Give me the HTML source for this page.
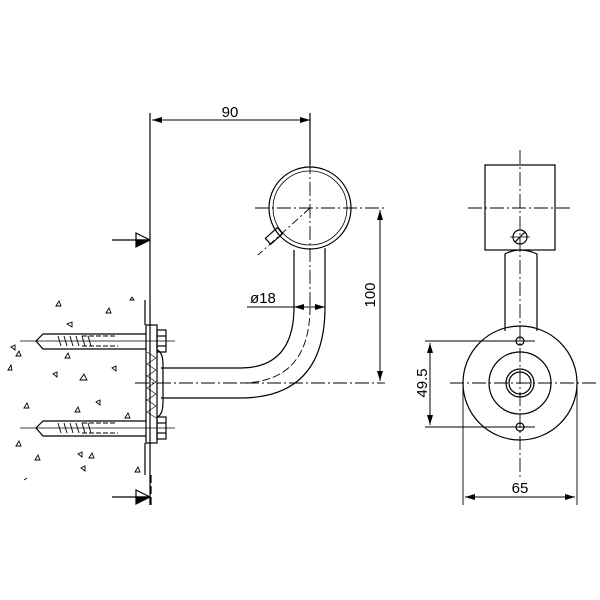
<!DOCTYPE html>
<html><head><meta charset="utf-8"><style>html,body{margin:0;padding:0;background:#fff}svg{display:block}text{font-family:"Liberation Sans",sans-serif;fill:#000}</style></head>
<body>
<svg width="600" height="600" viewBox="0 0 600 600" xmlns="http://www.w3.org/2000/svg">
<defs>
<marker id="a" markerWidth="10" markerHeight="6" refX="10" refY="3" orient="auto-start-reverse" markerUnits="userSpaceOnUse"><path d="M0,0 L10,3 L0,6 Z" fill="#000"/></marker>
</defs>
<g fill="none" stroke="#000" stroke-width="1.2">
<line x1="150" y1="113" x2="150" y2="505"/>
<line x1="145" y1="300" x2="145" y2="325" />
<line x1="145" y1="443" x2="145" y2="475" />
<line x1="151" y1="475" x2="151" y2="505" stroke-dasharray="8,3"/>
<line x1="112" y1="240" x2="150" y2="240"/>
<path d="M136,233 L150,240 L136,240 Z" fill="#fff"/><path d="M136,247 L150,240 L136,240 Z" fill="#000"/>
<line x1="112" y1="497" x2="150" y2="497"/>
<path d="M136,490 L150,497 L136,497 Z" fill="#fff"/><path d="M136,504 L150,497 L136,497 Z" fill="#000"/>
<line x1="310" y1="113" x2="310" y2="165"/>
<line x1="152" y1="120" x2="310" y2="120" marker-start="url(#a)" marker-end="url(#a)" stroke-width="1"/>
<circle cx="310" cy="208" r="41"/>
<circle cx="310" cy="208" r="37" stroke-width="0.8"/>
<line x1="310" y1="160" x2="310" y2="310" stroke-dasharray="14,3,2,3" stroke-width="0.9"/>
<line x1="255" y1="208" x2="385" y2="208" stroke-dasharray="14,3,2,3" stroke-width="0.9"/>
<line x1="310" y1="208" x2="258" y2="255" stroke-dasharray="8,3,2,3" stroke-width="0.9"/>
<rect x="266" y="232" width="16" height="8" transform="rotate(-42 274 236)"/>
<line x1="294" y1="250" x2="294" y2="307"/>
<line x1="325" y1="248" x2="325" y2="307"/>
<path d="M294,307 Q294,368 240,368 L161,368"/>
<path d="M325,307 Q325,398 240,398 L161,398"/>
<path d="M310,307 Q310,383 240,383" stroke-dasharray="8,3" stroke-width="0.9"/>
<line x1="135" y1="383" x2="385" y2="383" stroke-dasharray="14,3,2,3" stroke-width="0.9"/>
<line x1="380" y1="210" x2="380" y2="381" marker-start="url(#a)" marker-end="url(#a)" stroke-width="1"/>
<line x1="247" y1="307" x2="294" y2="307" stroke-width="1"/>
<line x1="294" y1="307" x2="325" y2="307" marker-start="url(#a)" marker-end="url(#a)" stroke-width="1"/>
<rect x="146" y="325" width="11" height="118"/>
<path d="M157,350 Q163,352 163,365 L163,402 Q163,415 157,417"/>
<path d="M147,352 l9,6 l-9,6 l9,6 l-9,6 l9,6 l-9,6 l9,6 l-9,6 l9,6 l-9,6 l9,6" stroke-width="0.6"/>
<rect x="157" y="330" width="9" height="22"/><line x1="157" y1="336" x2="166" y2="336"/><line x1="157" y1="346" x2="166" y2="346"/>
<rect x="157" y="417" width="9" height="22"/><line x1="157" y1="423" x2="166" y2="423"/><line x1="157" y1="433" x2="166" y2="433"/>
<line x1="20" y1="341" x2="175" y2="341" stroke-width="0.8"/>
<line x1="20" y1="428" x2="175" y2="428" stroke-width="0.8"/>
<path d="M146,334 L43,334 L36,341 L43,349 L146,349"/>
<path d="M146,421 L43,421 L36,428 L43,436 L146,436"/>
<path d="M58,336 l3,10 m3,-10 l3,10 m3,-10 l3,10 m3,-10 l3,10 m3,-10 l3,10 m3,-10 l3,10" stroke-width="0.9"/>
<path d="M58,423 l3,10 m3,-10 l3,10 m3,-10 l3,10 m3,-10 l3,10 m3,-10 l3,10 m3,-10 l3,10" stroke-width="0.9"/>
<path d="M82,336 h34 M82,346 h36 M82,423 h34 M82,433 h36" stroke-width="0.9" stroke-dasharray="5,2"/>
<g stroke-width="0.9">
<path d="M56,306 l3,-5 l2,5z M106,313 l3,-5 l2,5z M72,322 l-5,2 l5,3z M15,345 l-4,2 l4,3z M16,356 l3,-5 l2,5z M65,358 l3,-5 l2,5z M57,372 l-4,2 l4,3z M80,380 l4,-6 l3,6z M116,366 l-4,2 l4,3z M100,400 l-4,2 l4,3z M24,408 l3,-5 l2,5z M75,412 l3,-5 l2,5z M125,418 l3,-5 l2,5z M16,446 l3,-5 l2,5z M35,460 l3,-5 l2,5z M82,452 l-4,2 l4,3z M89,458 l3,-5 l2,5z M85,466 l-4,2 l4,3z M135,472 l3,-5 l2,5z M130,300 l2,-3 l2,3z M8,370 l3,-5 l1,5z M24,480 l3,-2"/>
</g>
<rect x="485" y="165" width="70" height="85"/>
<line x1="520" y1="150" x2="520" y2="480" stroke-dasharray="14,3,2,3" stroke-width="0.9"/>
<line x1="468" y1="208" x2="573" y2="208" stroke-dasharray="14,3,2,3" stroke-width="0.9"/>
<circle cx="520" cy="237" r="7"/><line x1="515" y1="242" x2="525" y2="232"/><line x1="510" y1="237" x2="530" y2="237" stroke-width="0.8"/>
<path d="M505,331 L505,254 Q520,246 537,254 L537,331"/>
<circle cx="520" cy="383" r="57"/>
<circle cx="520" cy="383" r="31"/>
<circle cx="520" cy="383" r="14"/>
<circle cx="520" cy="383" r="11"/>
<circle cx="520" cy="341" r="4"/>
<circle cx="520" cy="427" r="4"/>
<line x1="450" y1="383" x2="596" y2="383" stroke-dasharray="14,3,2,3" stroke-width="0.9"/>
<line x1="425" y1="341" x2="535" y2="341" stroke-width="0.9"/>
<line x1="425" y1="427" x2="535" y2="427" stroke-width="0.9"/>
<line x1="430" y1="343" x2="430" y2="425" marker-start="url(#a)" marker-end="url(#a)" stroke-width="1"/>
<line x1="463" y1="383" x2="463" y2="505" stroke-width="0.9"/>
<line x1="577" y1="383" x2="577" y2="505" stroke-width="0.9"/>
<line x1="465" y1="497" x2="575" y2="497" marker-start="url(#a)" marker-end="url(#a)" stroke-width="1"/>
</g>
<text x="230" y="117" font-size="15" text-anchor="middle">90</text>
<text x="250" y="303" font-size="15">ø18</text>
<text x="0" y="0" font-size="15" text-anchor="middle" transform="translate(375,295) rotate(-90)">100</text>
<text x="0" y="0" font-size="15" text-anchor="middle" transform="translate(427,383) rotate(-90)">49.5</text>
<text x="520" y="493" font-size="15" text-anchor="middle">65</text>
</svg>
</body></html>
